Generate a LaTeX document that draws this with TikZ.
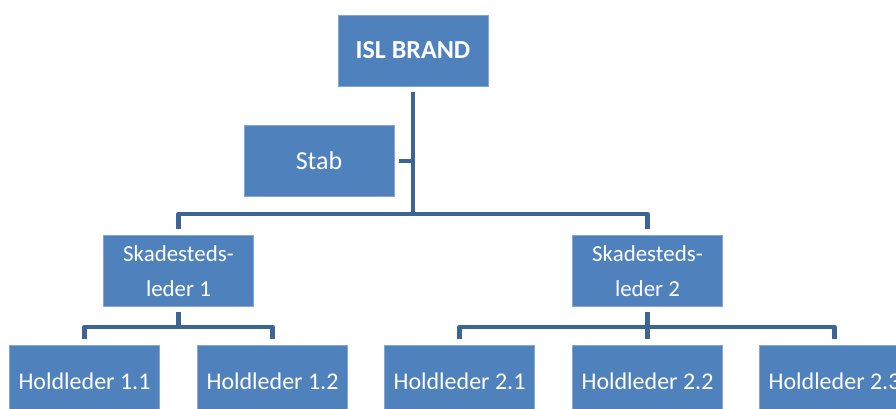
\documentclass[tikz,border=0pt]{standalone}
\usepackage{fontspec}
\setmainfont{Carlito}
\definecolor{boxblue}{HTML}{4F81BD}
\definecolor{lineblue}{HTML}{3C6495}
\begin{document}
\begin{tikzpicture}[x=0.75pt,y=-0.75pt,
  orgbox/.style={fill=boxblue,draw=boxblue!70!white,line width=0.4pt,text=white,inner sep=0pt,
    minimum width=112.5pt,minimum height=53.5pt,align=center,font=\fontsize{18}{26.25}\selectfont},
  conn/.style={draw=lineblue,line width=3.5pt,line join=round}]
\useasboundingbox (0,0) rectangle (896,409);
\clip (0,0) rectangle (896,409);
\node[orgbox,font=\fontsize{19.5}{26.25}\selectfont\bfseries] (isl) at (413,50.5) {ISL BRAND};
\node[orgbox,font=\fontsize{19.5}{26.25}\selectfont] (stab) at (319,161) {Stab};
\node[orgbox,font=\fontsize{17.2}{26.25}\selectfont] (sl1) at (178.5,271) {Skadesteds-\\leder 1};
\node[orgbox,font=\fontsize{17.2}{26.25}\selectfont] (sl2) at (647.5,271) {Skadesteds-\\leder 2};
\node[orgbox,anchor=north] (h11) at (84.5,345) {Holdleder 1.1};
\node[orgbox,anchor=north] (h12) at (272.5,345) {Holdleder 1.2};
\node[orgbox,anchor=north] (h21) at (459.5,345) {Holdleder 2.1};
\node[orgbox,anchor=north] (h22) at (647.5,345) {Holdleder 2.2};
\node[orgbox,anchor=north] (h23) at (834.5,345) {Holdleder 2.3};
% connectors
\coordinate (trunktop) at ([yshift=-4.5pt]isl.south);
\coordinate (bar) at (413,214);
\draw[conn] (trunktop) -- (bar);
\draw[conn] ([xshift=3.75pt]stab.east) -- (stab.east -| bar);
\draw[conn] ([yshift=4.5pt]sl1.north) |- (bar) -| ([yshift=4.5pt]sl2.north);
\draw[conn] ([yshift=-3.75pt]sl1.south) -- ++(0,15);
\draw[conn] ([yshift=4.5pt]h11.north) |- ([yshift=13.5pt]h12.north) -- ([yshift=4.5pt]h12.north);
\draw[conn] ([yshift=-3.75pt]sl2.south) -- ([yshift=4.5pt]h22.north);
\draw[conn] ([yshift=4.5pt]h21.north) |- ([yshift=13.5pt]h23.north) -- ([yshift=4.5pt]h23.north);
\end{tikzpicture}
\end{document}
